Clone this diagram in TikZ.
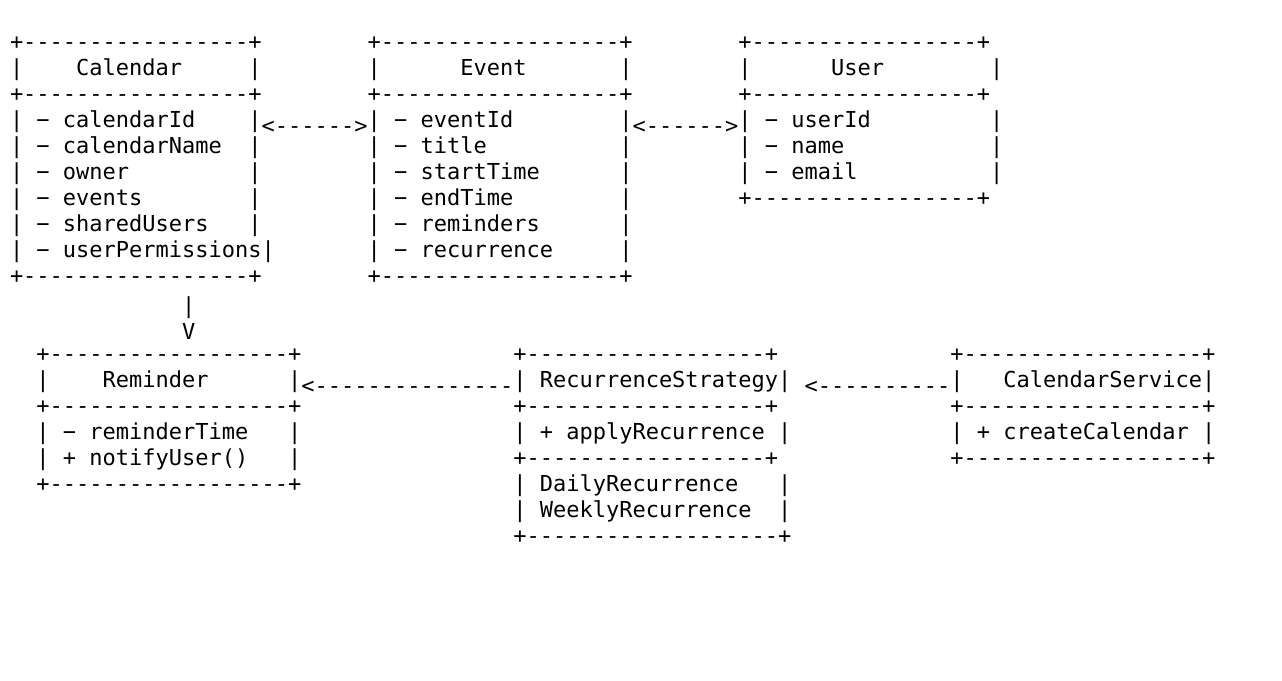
\documentclass[tikz,border=0pt]{standalone}
\usepackage{fontspec}
\setmonofont{DejaVu Sans Mono}
\newcommand{\asciifont}{\ttfamily\fontsize{22pt}{26pt}\selectfont}

\begin{document}
\begin{tikzpicture}[
    x=13.245pt, y=-26pt,
    ascii/.style={font=\asciifont, anchor=north west, inner sep=0pt,
                  outer sep=0pt, align=left, execute at begin node=\strut},
    box/.style={ascii},
    link/.style={ascii}
]
\useasboundingbox (-10pt,36.8pt) rectangle (1272pt,-643.2pt);

\node[box] (calendar) at (0,0)
    {+-----------------+\\
     |~~~~Calendar~~~~~|\\
     +-----------------+\\
     | − calendarId~~~~|\\
     | − calendarName~~|\\
     | − owner~~~~~~~~~|\\
     | − events~~~~~~~~|\\
     | − sharedUsers~~~|\\
     | − userPermissions|\\
     +-----------------+};

\node[box] (event) at (27,0)
    {+------------------+\\
     |~~~~~~Event~~~~~~~|\\
     +------------------+\\
     | − eventId~~~~~~~~|\\
     | − title~~~~~~~~~~|\\
     | − startTime~~~~~~|\\
     | − endTime~~~~~~~~|\\
     | − reminders~~~~~~|\\
     | − recurrence~~~~~|\\
     +------------------+};

\node[box] (user) at (55,0)
    {+-----------------+\\
     |~~~~~~User~~~~~~~~|\\
     +-----------------+\\
     | − userId~~~~~~~~~|\\
     | − name~~~~~~~~~~~|\\
     | − email~~~~~~~~~~|\\
     +-----------------+};

\node[box] (reminder) at (2,12)
    {+------------------+\\
     |~~~~Reminder~~~~~~|\\
     +------------------+\\
     | − reminderTime~~~|\\
     | + notifyUser()~~~|\\
     +------------------+};

\node[box] (strategy) at (38,12)
    {+------------------+\\
     | RecurrenceStrategy|\\
     +------------------+\\
     | + applyRecurrence |\\
     +------------------+\\
     | DailyRecurrence~~~|\\
     | WeeklyRecurrence~~|\\
     +-------------------+};

\node[box] (service) at (71,12)
    {+------------------+\\
     |~~~CalendarService|\\
     +------------------+\\
     | + createCalendar |\\
     +------------------+};

\node[link] (calevt) at (19,3) {<------>};
\node[link] (evtusr) at (47,3) {<------>};
\node[link] (calrem) at (13,10) {|\\V};
\node[link] (remstr) at (22,13) {<---------------};
\node[link] (strsvc) at (60,13) {<----------};

\end{tikzpicture}
\end{document}
